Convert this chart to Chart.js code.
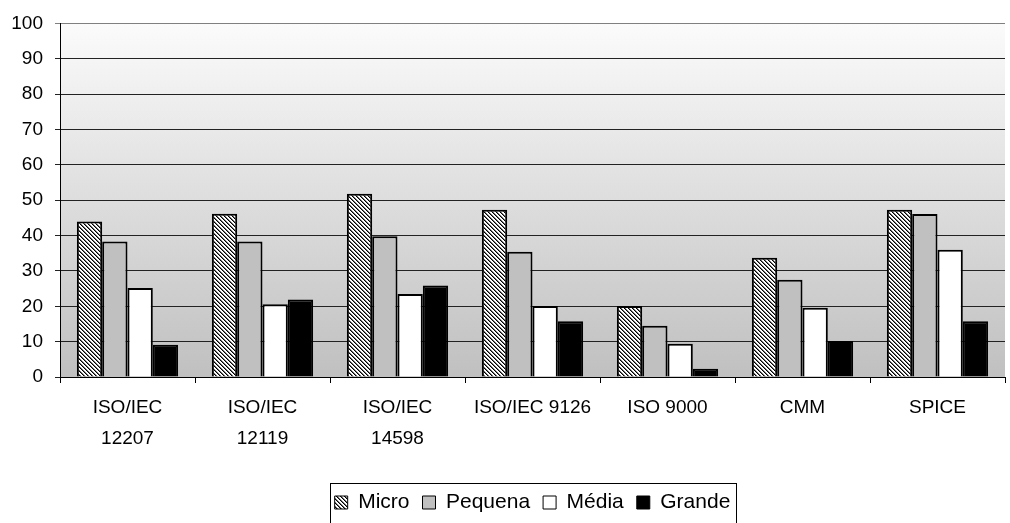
<!DOCTYPE html>
<html>
<head>
<meta charset="utf-8">
<script src="https://cdn.jsdelivr.net/npm/chart.js@4"></script>
<style>
  html, body { margin: 0; padding: 0; background: #fff; }
  canvas { display: block; }
</style>
</head>
<body>
<canvas id="normasChart" width="1010" height="523"></canvas>
<script>
const categories = [['ISO/IEC', '12207'], ['ISO/IEC', '12119'], ['ISO/IEC', '14598'], 'ISO/IEC 9126', 'ISO 9000', 'CMM', 'SPICE'];
const micro = [44, 46.2, 51.8, 47.3, 20.1, 33.7, 47.3];
const pequena = [38.3, 38.3, 39.8, 35.4, 14.5, 27.5, 46.1];
const media = [25.2, 20.6, 23.5, 20.1, 9.4, 19.6, 36];
const grande = [9.1, 21.9, 25.9, 15.8, 2.3, 10.2, 15.8];
const yMin = 0, yMax = 100, yStep = 10;

// hatched fill for "Micro"
function makeHatch() {
    const c = document.createElement('canvas');
    c.width = 4; c.height = 4;
    const g = c.getContext('2d');
    g.fillStyle = '#ffffff';
    g.fillRect(0, 0, 4, 4);
    for (let i = 0; i < 4; i++) {
        g.fillStyle = '#000000';
        g.fillRect(i, i, 1, 1);
        g.fillStyle = '#707070';
        g.fillRect((i + 1) % 4, i, 1, 1);
    }
    return g.createPattern(c, 'repeat');
}

const font = "'Liberation Sans', Arial, sans-serif";

const plotBackground = {
    id: 'plotBackground',
    beforeDraw(chart) {
        const {ctx, chartArea: a} = chart;
        const grad = ctx.createLinearGradient(0, a.top, 0, a.bottom);
        grad.addColorStop(0, '#fbfbfb');
        grad.addColorStop(1, '#c0c0c0');
        ctx.save();
        ctx.fillStyle = grad;
        ctx.fillRect(a.left, a.top, a.right - a.left, a.bottom - a.top);
        ctx.restore();
    }
};

const legendFrame = {
    id: 'legendFrame',
    afterDraw(chart) {
        const boxes = chart.legend.legendHitBoxes;
        if (!boxes || !boxes.length) return;
        const left = Math.min(...boxes.map(b => b.left)) - 5;
        const right = Math.max(...boxes.map(b => b.left + b.width)) + 5;
        const top = boxes[0].top - 9;
        const ctx = chart.ctx;
        ctx.save();
        ctx.strokeStyle = '#000';
        ctx.lineWidth = 1;
        ctx.strokeRect(Math.round(left) + 0.5, Math.round(top) + 0.5, Math.round(right - left), 60);
        ctx.restore();
    }
};

const hatch = makeHatch();
const ctx = document.getElementById('normasChart').getContext('2d');

const common = { borderColor: '#000', borderWidth: 2, categoryPercentage: 0.75, barPercentage: 1.0 };

new Chart(ctx, {
    type: 'bar',
    data: {
        labels: categories,
        datasets: [
            { label: 'Micro', data: micro, backgroundColor: hatch, ...common },
            { label: 'Pequena', data: pequena, backgroundColor: '#c0c0c0', ...common },
            { label: 'Média', data: media, backgroundColor: '#ffffff', ...common },
            { label: 'Grande', data: grande, backgroundColor: '#000000', ...common }
        ]
    },
    options: {
        responsive: false,
        animation: false,
        layout: { padding: { left: 0, right: 5, top: 23, bottom: 0 } },
        scales: {
            x: {
                offset: true,
                afterFit: (s) => { s.height = 102; },
                border: { color: '#000', width: 1 },
                grid: { offset: true, drawOnChartArea: false, drawTicks: true, tickLength: 6, color: '#000' },
                ticks: { color: '#000', padding: 10, maxRotation: 0, autoSkip: false, font: { family: font, size: 19, lineHeight: 1.6 } }
            },
            y: {
                min: yMin,
                max: yMax,
                afterFit: (s) => { s.width = 60; },
                border: { color: '#000', width: 1 },
                grid: {
                    color: (c) => (c.tick && c.tick.value === yMax ? '#808080' : '#222'),
                    lineWidth: 1,
                    tickLength: 5
                },
                ticks: { stepSize: yStep, color: '#000', padding: 12, font: { family: font, size: 19 } }
            }
        },
        plugins: {
            legend: {
                position: 'bottom',
                fullSize: false,
                labels: {
                    color: '#000',
                    boxWidth: 13,
                    boxHeight: 13,
                    padding: 13,
                    font: { family: font, size: 21 },
                    generateLabels(chart) {
                        const items = Chart.defaults.plugins.legend.labels.generateLabels(chart);
                        items.forEach(it => { it.lineWidth = 1; });
                        return items;
                    }
                }
            },
            tooltip: { enabled: false }
        }
    },
    plugins: [plotBackground, legendFrame]
});
</script>
</body>
</html>
